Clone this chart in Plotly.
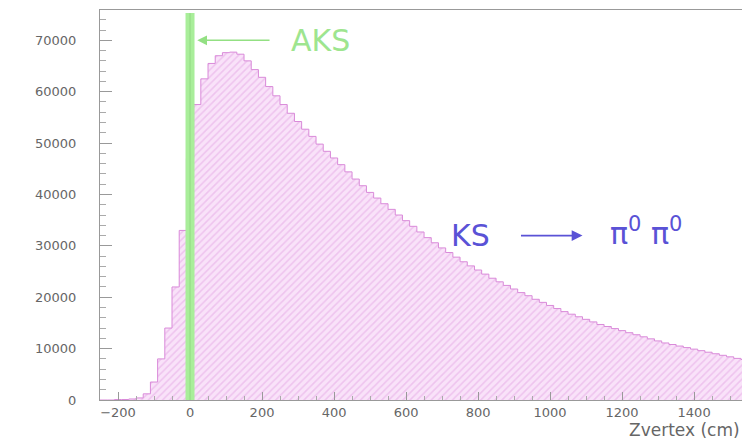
import plotly.graph_objects as go

# Histogram of Z vertex (cm): bin centres (20 cm bins) and counts
bin_width = 20
bin_centers = [-240 + bin_width * i for i in range(90)]
counts = [
    0, 0, 100, 100, 200, 400, 1200, 3500, 8000, 14000,
    22000, 33000, 47000, 57500, 62500, 65500, 67000, 67600, 67700, 67300,
    66000, 64300, 62800, 61000, 59200, 57500, 55800, 54200, 52700, 51300,
    49800, 48400, 47100, 45800, 44400, 43000, 41700, 40400, 39300, 38200,
    37100, 36000, 34900, 33800, 32700, 31600, 30600, 29600, 28700, 27800,
    26900, 26100, 25300, 24500, 23700, 23000, 22300, 21600, 20900, 20300,
    19600, 19000, 18400, 17800, 17200, 16700, 16200, 15700, 15200, 14700,
    14300, 13900, 13500, 13100, 12700, 12300, 11900, 11500, 11100, 10800,
    10500, 10200, 9900, 9600, 9300, 9000, 8700, 8400, 8100, 7900,
]

aks_position = 0
aks_label = "AKS"
aks_label_y = 70000
decay_label = "KS"
decay_products = "π<sup>0</sup> π<sup>0</sup>"
decay_label_y = 32000

x_title = "Zvertex (cm)"

# step outline: left edges + final right edge
edges = [c - bin_width / 2 for c in bin_centers] + [bin_centers[-1] + bin_width / 2]
steps = counts + [counts[-1]]

fig = go.Figure()
fig.add_trace(go.Scatter(
    x=edges, y=steps, mode="lines", line_shape="hv",
    line=dict(color="#d98ad9", width=1),
    fill="tozeroy", fillcolor="#f8def8",
    fillpattern=dict(shape="/", bgcolor="#f9e2f9", fgcolor="#e3a3e3",
                     size=5, solidity=0.3),
    hoverinfo="skip", showlegend=False,
))

# AKS vertical band
fig.add_shape(type="line", x0=aks_position, x1=aks_position, y0=0, y1=75300,
              xref="x", yref="y", line=dict(color="#a9ee9a", width=9), layer="above")
fig.add_shape(type="line", x0=aks_position, x1=aks_position, y0=0, y1=75300,
              xref="x", yref="y", line=dict(color="#92d982", width=1), layer="above")

# AKS arrow and label
fig.add_annotation(x=aks_position + 20, y=aks_label_y, ax=225, ay=aks_label_y,
                   xref="x", yref="y", axref="x", ayref="y", text="",
                   showarrow=True, arrowhead=2, arrowsize=1.3, arrowwidth=1.5,
                   arrowcolor="#93e083")
fig.add_annotation(x=275, y=aks_label_y, xref="x", yref="y", text=aks_label,
                   showarrow=False, xanchor="left", yanchor="middle",
                   font=dict(family="DejaVu Sans, Liberation Sans", size=30, color="#9ee58f"))

# KS -> pi0 pi0 label
fig.add_annotation(x=718, y=decay_label_y, xref="x", yref="y", text=decay_label,
                   showarrow=False, xanchor="left", yanchor="middle",
                   font=dict(family="DejaVu Sans, Liberation Sans", size=30, color="#5a52d6"))
fig.add_annotation(x=1090, y=decay_label_y, ax=915, ay=decay_label_y,
                   xref="x", yref="y", axref="x", ayref="y", text="",
                   showarrow=True, arrowhead=2, arrowsize=1.2, arrowwidth=1.8,
                   arrowcolor="#5a52d6")
fig.add_annotation(x=1160, y=decay_label_y + 700, xref="x", yref="y", text=decay_products,
                   showarrow=False, xanchor="left", yanchor="middle",
                   font=dict(family="DejaVu Sans, Liberation Sans", size=30, color="#5a52d6"))

# axis title at the lower right
fig.add_annotation(x=1, y=0, xref="paper", yref="paper", yshift=-30,
                   text=x_title, showarrow=False, xanchor="right", yanchor="middle",
                   font=dict(family="DejaVu Sans, Liberation Sans", size=17, color="#666666"))

axis_font = dict(family="DejaVu Sans, Liberation Sans", size=13, color="#666666")

fig.update_layout(
    width=742, height=441,
    margin=dict(l=100, r=0, t=10, b=41),
    paper_bgcolor="white", plot_bgcolor="white",
    showlegend=False,
    xaxis=dict(
        range=[-250, 1533], showgrid=False, zeroline=False,
        showline=True, linecolor="#999999", linewidth=1, mirror=True,
        ticks="inside", ticklen=8, tickcolor="#999999",
        tick0=-200, dtick=200, tickfont=axis_font,
        minor=dict(ticks="inside", ticklen=4, dtick=50, tickcolor="#aaaaaa"),
        automargin=False,
    ),
    yaxis=dict(
        range=[0, 75900], showgrid=False, zeroline=False,
        showline=True, linecolor="#999999", linewidth=1,
        ticks="inside", ticklen=12, tickcolor="#999999",
        tick0=0, dtick=10000, tickformat="d", tickfont=axis_font,
        minor=dict(ticks="inside", ticklen=6, dtick=2000, tickcolor="#aaaaaa"),
        ticklabelstandoff=20,
        automargin=False,
    ),
)

fig.write_html(
    "out.html",
    config={"displayModeBar": False},
    post_script="document.body.style.margin='0';document.body.style.overflow='hidden';",
)
